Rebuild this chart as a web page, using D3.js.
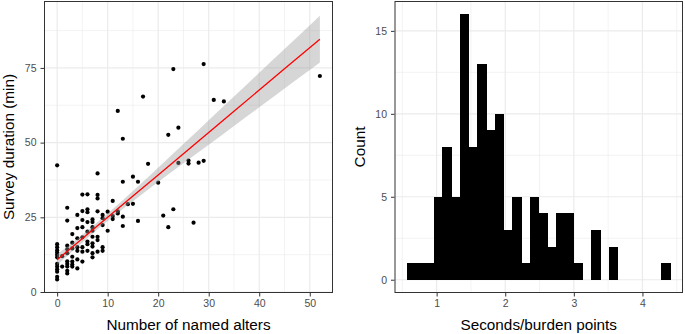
<!DOCTYPE html>
<html>
<head>
<meta charset="utf-8">
<script src="https://cdnjs.cloudflare.com/ajax/libs/d3/7.8.5/d3.min.js"></script>
<style>
  body { margin: 0; background: #fff; }
  text { font-family: "Liberation Sans", Arial, sans-serif; }
</style>
</head>
<body>
<div id="chart"></div>
<script>
// scatter: number of named alters vs survey duration (min)
var alters = [
  0,0,0,0,0,0,0,0,0,0,0,0,0,
  1,1,
  2,2,2,2,2,2,2,2,2,2,
  3,3,3,3,3,3,3,
  4,4,4,4,4,4,4,
  5,5,5,5,5,5,5,5,
  6,6,6,6,6,6,6,6,
  7,7,7,7,7,7,7,7,7,
  8,8,8,8,8,8,8,
  9,9,9,9,9,
  10,10, 11,11,11, 12,12,12, 13,13,13,13, 14, 15,15, 16,16, 17, 18, 20, 21,
  22,22, 23,23, 24,24, 26,26, 27, 28, 29,29, 31, 33, 52
]
var duration = [
  42.4,16.0,15.0,14.0,13.2,12.4,11.6,9.4,8.5,7.6,6.8,5.1,4.2,
  12.0,8.5,
  28.2,23.9,15.5,14.3,13.0,10.3,9.4,8.5,7.1,6.2,
  19.4,16.5,14.6,11.8,10.2,9.2,8.5,
  25.8,21.4,18.0,15.0,13.8,10.9,7.9,
  32.6,27.1,24.1,21.7,18.3,15.0,13.5,10.2,
  32.7,27.7,26.7,23.4,20.2,16.9,16.0,13.8,
  24.3,23.4,21.7,20.5,18.5,16.3,15.2,13.0,11.6,
  39.7,32.5,31.3,27.0,18.5,17.4,13.5,
  25.8,24.7,22.4,15.0,13.8,
  26.9,20.5, 30.5,25.4,24.4, 60.6,27.0,26.3, 51.3,36.9,25.2,22.1, 29.4, 38.6,29.5, 36.9,23.8, 65.4, 42.9, 36.6, 25.6,
  52.6,21.7, 74.6,27.7, 55.0,43.2, 44.0,43.0, 23.2, 43.3, 76.3,43.9, 64.3, 63.8, 72.3
]

// linear fit and its confidence band
var fitX     = [0, 5, 10, 15, 20, 25, 30, 35, 40, 45, 52]
var fitY     = [10.8, 17.9, 25.0, 32.1, 39.2, 46.3, 53.4, 60.5, 67.6, 74.7, 84.6]
var fitLow   = [8.95, 16.6, 23.75, 30.4, 36.8, 43.1, 49.3, 55.6, 61.8, 68.1, 76.8]
var fitHigh  = [12.65, 19.2, 26.25, 33.8, 41.6, 49.5, 57.5, 65.4, 73.4, 81.3, 92.5]

// histogram of seconds/burden points (30 bins)
var binStart = 0.577
var binWidth = 0.1276
var binCounts = [1,1,1,5,8,5,16,8,13,9,10,3,5,1,5,4,2,4,4,1,0,3,0,2,0,0,0,0,0,1]

var xTicksL = [0, 10, 20, 30, 40, 50]
var yTicksL = [0, 25, 50, 75]
var xTicksR = [1, 2, 3, 4]
var yTicksR = [0, 5, 10, 15]

var width = 685, height = 334
var gridCol = "#EBEBEB", borderCol = "#333333", tickTextCol = "#4D4D4D"

var svg = d3.select("#chart")
    .append("svg")
        .attr("width", width)
        .attr("height", height)

// ---------- left panel ----------
var xL = d3.scaleLinear().domain([-2.6, 54.6]).range([44, 333])
var yL = d3.scaleLinear().domain([-0.33, 97.4]).range([293, 1])

var gL = svg.append("g")

function grid(g, x, y, xMajor, xMinor, yMajor, yMinor) {
    var r = x.range(), rr = y.range()
    g.append("rect")
        .attr("x", r[0]).attr("y", rr[1])
        .attr("width", r[1] - r[0]).attr("height", rr[0] - rr[1])
        .attr("fill", "#fff")
    g.selectAll(".gminx").data(xMinor).enter().append("line")
        .attr("x1", d => x(d)).attr("x2", d => x(d))
        .attr("y1", rr[1]).attr("y2", rr[0])
        .attr("stroke", gridCol).attr("stroke-width", 0.6)
    g.selectAll(".gminy").data(yMinor).enter().append("line")
        .attr("y1", d => y(d)).attr("y2", d => y(d))
        .attr("x1", r[0]).attr("x2", r[1])
        .attr("stroke", gridCol).attr("stroke-width", 0.6)
    g.selectAll(".gmajx").data(xMajor).enter().append("line")
        .attr("x1", d => x(d)).attr("x2", d => x(d))
        .attr("y1", rr[1]).attr("y2", rr[0])
        .attr("stroke", gridCol).attr("stroke-width", 1.2)
    g.selectAll(".gmajy").data(yMajor).enter().append("line")
        .attr("y1", d => y(d)).attr("y2", d => y(d))
        .attr("x1", r[0]).attr("x2", r[1])
        .attr("stroke", gridCol).attr("stroke-width", 1.2)
}

function axes(g, x, y, xt, yt, xTitle, yTitle, yTitleX) {
    var r = x.range(), rr = y.range()
    g.append("rect")
        .attr("x", r[0] + 0.5).attr("y", rr[1] + 0.5)
        .attr("width", r[1] - r[0] - 1).attr("height", rr[0] - rr[1] - 1)
        .attr("fill", "none").attr("stroke", borderCol).attr("stroke-width", 1)

    var ax = g.append("g")
        .attr("transform", "translate(0," + rr[0] + ")")
        .call(d3.axisBottom(x).tickValues(xt).tickSize(3.5).tickPadding(3.5).tickFormat(d3.format("d")))
    var ay = g.append("g")
        .attr("transform", "translate(" + r[0] + ",0)")
        .call(d3.axisLeft(y).tickValues(yt).tickSize(3.5).tickPadding(4).tickFormat(d3.format("d")))
    ;[ax, ay].forEach(function(a) {
        a.select(".domain").remove()
        a.selectAll(".tick line").attr("stroke", borderCol)
        a.selectAll(".tick text")
            .attr("fill", tickTextCol)
            .attr("font-size", "10.5px")
            .attr("font-family", "'Liberation Sans', Arial, sans-serif")
    })

    g.append("text")
        .attr("x", (r[0] + r[1]) / 2)
        .attr("y", 330)
        .attr("text-anchor", "middle")
        .attr("font-size", "15.3px")
        .attr("fill", "#000")
        .text(xTitle)
    g.append("text")
        .attr("transform", "translate(" + yTitleX + "," + ((rr[0] + rr[1]) / 2) + ") rotate(-90)")
        .attr("text-anchor", "middle")
        .attr("font-size", "15.3px")
        .attr("fill", "#000")
        .text(yTitle)
}

grid(gL, xL, yL, xTicksL, [5, 15, 25, 35, 45], yTicksL, [12.5, 37.5, 62.5, 87.5])

gL.selectAll("circle")
    .data(alters)
    .enter()
    .append("circle")
        .attr("cx", function(d) { return xL(d) })
        .attr("cy", function(d, i) { return yL(duration[i]) })
        .attr("r", 2.1)
        .attr("fill", "#000")

var band = d3.area()
    .x(function(d, i) { return xL(fitX[i]) })
    .y0(function(d, i) { return yL(fitLow[i]) })
    .y1(function(d, i) { return yL(fitHigh[i]) })
    .curve(d3.curveMonotoneX)

gL.append("path")
    .attr("d", band(fitX))
    .attr("fill", "#999999")
    .attr("fill-opacity", 0.4)

gL.append("path")
    .attr("d", d3.line()
        .x(function(d, i) { return xL(fitX[i]) })
        .y(function(d, i) { return yL(fitY[i]) })(fitX))
    .attr("fill", "none")
    .attr("stroke", "#FF0000")
    .attr("stroke-width", 1.3)

axes(gL, xL, yL, xTicksL, yTicksL, "Number of named alters", "Survey duration (min)", 14)

// ---------- right panel ----------
var xR = d3.scaleLinear().domain([0.386, 4.591]).range([394.5, 683])
var yR = d3.scaleLinear().domain([-0.8, 16.8]).range([293, 1])

var gR = svg.append("g")
grid(gR, xR, yR, xTicksR, [0.5, 1.5, 2.5, 3.5, 4.5], yTicksR, [2.5, 7.5, 12.5])

var bins = binCounts.map(function(c, i) {
    return {x0: binStart + i * binWidth, x1: binStart + (i + 1) * binWidth, count: c}
}).filter(function(b) { return b.count > 0 })

gR.selectAll(".bar")
    .data(bins)
    .enter()
    .append("rect")
        .attr("class", "bar")
        .attr("x", function(d) { return xR(d.x0) - 0.3 })
        .attr("width", function(d) { return xR(d.x1) - xR(d.x0) + 0.6 })
        .attr("y", function(d) { return yR(d.count) })
        .attr("height", function(d) { return yR(0) - yR(d.count) })
        .attr("fill", "#000")
        .attr("shape-rendering", "crispEdges")

axes(gR, xR, yR, xTicksR, yTicksR, "Seconds/burden points", "Count", 365)
</script>
</body>
</html>
